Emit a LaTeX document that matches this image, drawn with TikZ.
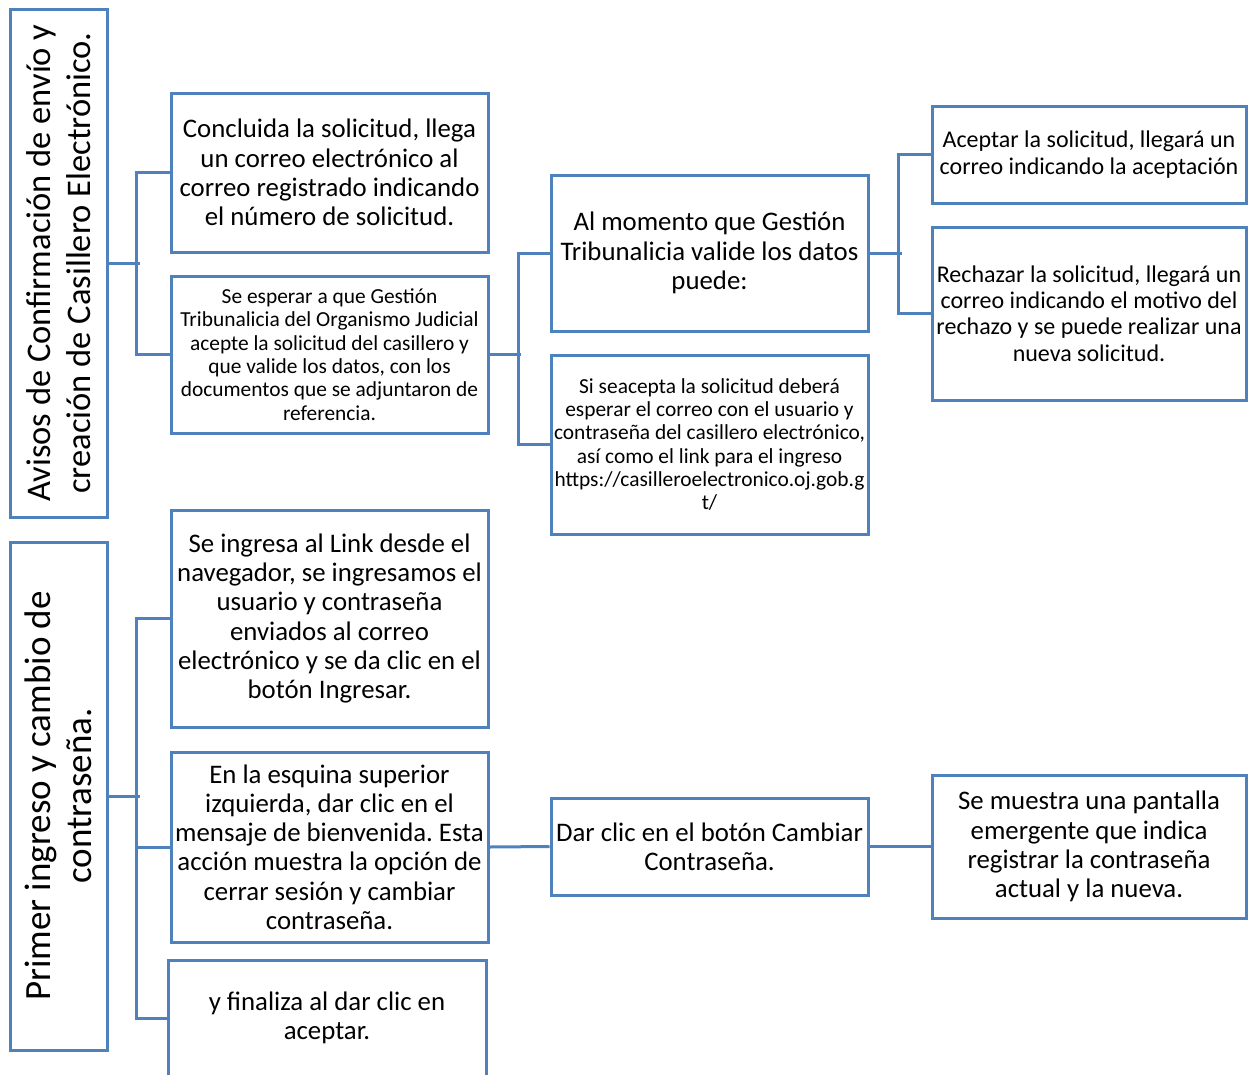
\documentclass[tikz,border=0pt]{standalone}
\usepackage{fontspec}
\setmainfont{Carlito}
\definecolor{boxblue}{RGB}{79,129,189}
\tikzset{
  box/.style={draw=boxblue, line width=3pt, inner sep=0pt, align=center, text=black},
  big/.style={font=\fontsize{26.8}{29.2}\selectfont},
  small/.style={font=\fontsize{21.4}{23.3}\selectfont},
  mid/.style={font=\fontsize{24}{26.3}\selectfont},
  titlea/.style={font=\fontsize{34.5}{39.5}\selectfont},
  titleb/.style={font=\fontsize{37}{40.5}\selectfont},
  conn/.style={draw=boxblue, line width=3pt}
}
\begin{document}
\frenchspacing
\begin{tikzpicture}[x=1pt,y=-1pt]
\useasboundingbox (0,0) rectangle (1248,1074);
\clip (0,0) rectangle (1248,1074);
% titles
\node[box, titlea, rotate=90, minimum width=508, minimum height=97] (T1) at (58.5,263) {Avisos de Confirmación de envío y\\creación de Casillero Electrónico.};
\node[box, titleb, rotate=90, minimum width=508, minimum height=97] (T2) at (58.5,796) {Primer ingreso y cambio de\\contraseña.};
% first group
\node[box, big, minimum width=317, minimum height=159] (A1) at (329.5,172.5) {Concluida la solicitud, llega\\un correo electrónico al\\correo registrado indicando\\el número de solicitud.};
\node[box, small, minimum width=317, minimum height=157] (A2) at (329.5,354.5) {Se esperar a que Gestión\\Tribunalicia del Organismo Judicial\\acepte la solicitud del casillero y\\que valide los datos, con los\\documentos que se adjuntaron de\\referencia.};
\node[box, big, minimum width=317, minimum height=156] (B1) at (709.5,253) {Al momento que Gestión\\Tribunalicia valide los datos\\puede:};
\node[box, small, minimum width=317, minimum height=179] (B2) at (709.5,444.5) {Si seacepta la solicitud deberá\\esperar el correo con el usuario y\\contraseña del casillero electrónico,\\así como el link para el ingreso\\https://casilleroelectronico.oj.gob.g\\t/};
\node[box, mid, minimum width=314, minimum height=97] (C1) at (1089,154.5) {Aceptar la solicitud, llegará un\\correo indicando la aceptación};
\node[box, mid, minimum width=314, minimum height=173] (C2) at (1089,313.5) {Rechazar la solicitud, llegará un\\correo indicando el motivo del\\rechazo y se puede realizar una\\nueva solicitud.};
% second group
\node[box, big, minimum width=317, minimum height=217] (D1) at (329.5,618.5) {Se ingresa al Link desde el\\navegador, se ingresamos el\\usuario y contraseña\\enviados al correo\\electrónico y se da clic en el\\botón Ingresar.};
\node[box, big, minimum width=317, minimum height=190] (D2) at (329.5,847) {En la esquina superior\\izquierda, dar clic en el\\mensaje de bienvenida. Esta\\acción muestra la opción de\\cerrar sesión y cambiar\\contraseña.};
\node[box, big, minimum width=318, minimum height=116] (D3) at (327,1018) {y finaliza al dar clic en\\aceptar.};
\node[box, big, minimum width=317, minimum height=97] (E) at (709.5,846.5) {Dar clic en el botón Cambiar\\Contraseña.};
\node[box, big, minimum width=314, minimum height=143] (F) at (1089,846.5) {Se muestra una pantalla\\emergente que indica\\registrar la contraseña\\actual y la nueva.};
% connectors
\draw[conn] (T1.south) -- ++(31,0);
\draw[conn] (A1.west) -- ++(-33,0) |- (A2.west);
\draw[conn] (A2.east) -- ++(31,0);
\draw[conn] (B1.west) -- ++(-31,0) |- (B2.west);
\draw[conn] (B1.east) -- ++(32,0);
\draw[conn] (C1.west) -- ++(-32,0) |- (C2.west);
\draw[conn] (T2.south) -- ++(31,0);
\draw[conn] (D1.west) -- ++(-33,0) |- (D3.west);
\draw[conn] (D2.west) -- ++(-33,0);
\draw[conn] (D2.east) -- (E.west);
\draw[conn] (E.east) -- (F.west);
\end{tikzpicture}
\end{document}
